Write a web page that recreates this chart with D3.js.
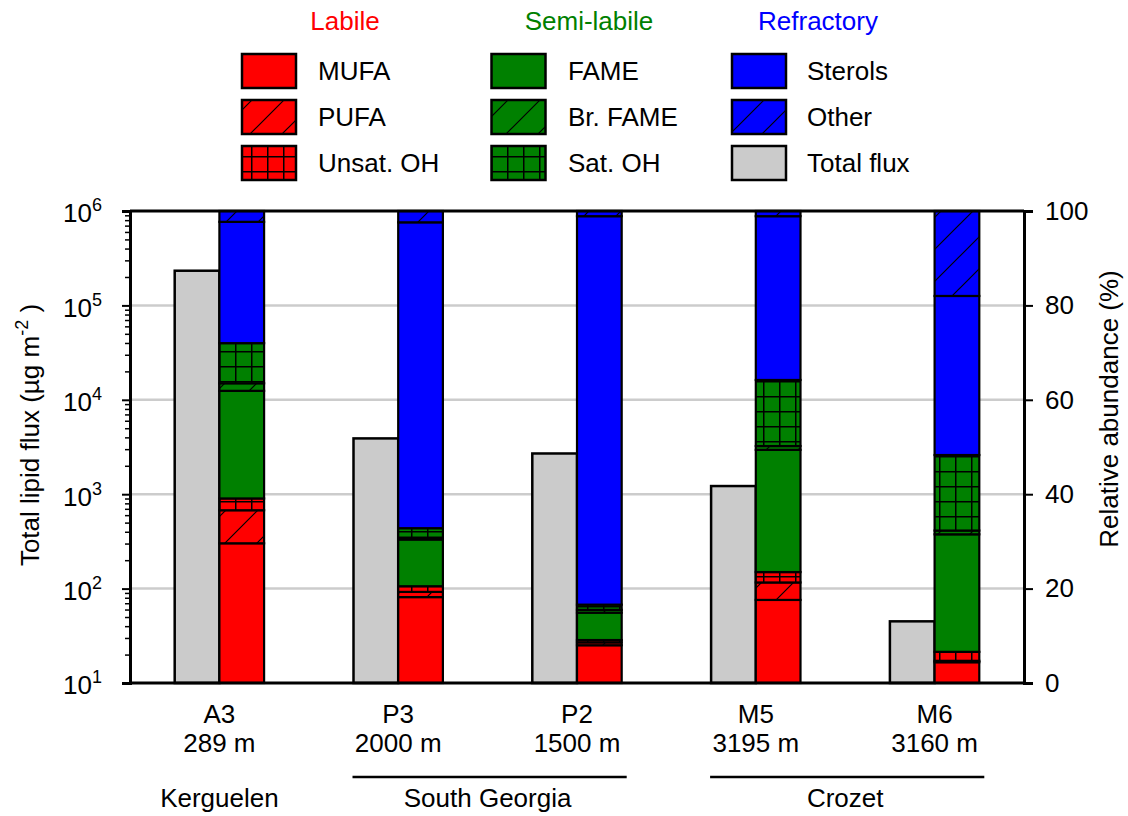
<!DOCTYPE html>
<html>
<head>
<meta charset="utf-8">
<script src="https://cdn.jsdelivr.net/npm/d3@7/dist/d3.min.js"></script>
<style>
  html, body { margin: 0; padding: 0; background: #fff; }
  svg { display: block; font-family: "Liberation Sans", Arial, Helvetica, sans-serif; }
</style>
</head>
<body>
<svg id="chart" width="1128" height="816"></svg>
<script>
// ---------------- DATA ----------------
const stations = ["A3", "P3", "P2", "M5", "M6"];
const depths = ["289 m", "2000 m", "1500 m", "3195 m", "3160 m"];
const totalFlux = [233000, 3900, 2700, 1220, 45];           // µg m-2 (left log axis)
const mufa    = [29.6, 18.2, 8.0, 17.6, 4.4];               // % (right axis)
const pufa    = [7.0, 1.1, 0.6, 3.7, 0.3];
const unsatOH = [2.5, 1.2, 0.5, 2.2, 1.9];
const fame    = [22.8, 9.9, 5.8, 25.9, 24.9];
const brFame  = [1.6, 0.4, 0.6, 0.8, 0.8];
const satOH   = [8.5, 2.0, 1.1, 14.0, 16.0];
const sterols = [25.7, 64.8, 82.3, 34.7, 33.7];
const other   = [2.3, 2.4, 1.1, 1.1, 18.0];
const regionNames = ["Kerguelen", "South Georgia", "Crozet"];
const regionMembers = [["A3"], ["P3", "P2"], ["M5", "M6"]];
const leftTickExponents = [1, 2, 3, 4, 5, 6];
const rightTicks = [0, 20, 40, 60, 80, 100];
const groupNames = ["Labile", "Semi-labile", "Refractory"];
const legendLabels = [["MUFA", "PUFA", "Unsat. OH"], ["FAME", "Br. FAME", "Sat. OH"], ["Sterols", "Other", "Total flux"]];

// ---------------- STYLE ----------------
const keys = ["mufa", "pufa", "unsatOH", "fame", "brFame", "satOH", "sterols", "other"];
const keyColor = { mufa: "#ff0000", pufa: "#ff0000", unsatOH: "#ff0000", fame: "#008000", brFame: "#008000", satOH: "#008000", sterols: "#0000ff", other: "#0000ff" };
const keyPattern = { mufa: null, pufa: "diag", unsatOH: "grid", fame: null, brFame: "diag", satOH: "grid", sterols: null, other: "diag" };
const groupColors = ["#ff0000", "#008000", "#0000ff"];
const grayFill = "#cbcbcb";
const legendKeys = [["mufa", "pufa", "unsatOH"], ["fame", "brFame", "satOH"], ["sterols", "other", "total"]];

// table for stacking
const table = stations.map((s, i) => ({
  station: s, mufa: mufa[i], pufa: pufa[i], unsatOH: unsatOH[i], fame: fame[i],
  brFame: brFame[i], satOH: satOH[i], sterols: sterols[i], other: other[i]
}));

const svg = d3.select("#chart");
const FS = 26;
const plotL = 130, plotR = 1024, plotT = 211, plotB = 683;

const x = d3.scaleBand().domain(stations).range([plotL, plotR]).padding(0);
const yLog = d3.scaleLog().domain([10, 1e6]).range([plotB, plotT]);
const yPct = d3.scaleLinear().domain([0, 100]).range([plotB, plotT]);
const bw = x.bandwidth() * 0.25;
const cx = s => x(s) + x.bandwidth() / 2;

// patterns
const defs = svg.append("defs");
const pd = defs.append("pattern").attr("id", "diag").attr("patternUnits", "userSpaceOnUse")
  .attr("width", 32).attr("height", 32);
pd.append("path").attr("d", "M0,32 L32,0 M-4,4 L4,-4 M28,36 L36,28")
  .attr("stroke", "#000").attr("stroke-width", 1.2).attr("fill", "none");
const pg = defs.append("pattern").attr("id", "grid").attr("patternUnits", "userSpaceOnUse")
  .attr("x", 11).attr("y", 6).attr("width", 16).attr("height", 15);
pg.append("path").attr("d", "M0.75,0 V15 M0,0.75 H16")
  .attr("stroke", "#000").attr("stroke-width", 1.5).attr("fill", "none");

// gridlines
svg.append("g").selectAll("line").data(rightTicks.filter(v => v > 0 && v < 100)).join("line")
  .attr("x1", plotL).attr("x2", plotR)
  .attr("y1", d => yPct(d)).attr("y2", d => yPct(d))
  .attr("stroke", "#cccccc").attr("stroke-width", 2.5);

// total flux bars (gray, log axis)
svg.append("g").selectAll("rect").data(stations).join("rect")
  .attr("x", s => cx(s) - bw).attr("width", bw)
  .attr("y", (s, i) => yLog(totalFlux[i]))
  .attr("height", (s, i) => plotB - yLog(totalFlux[i]))
  .attr("fill", grayFill).attr("stroke", "#000").attr("stroke-width", 2.5);

// stacked composition bars
const stack = d3.stack().keys(keys)(table);
const gStack = svg.append("g");
stack.forEach(layer => {
  const key = layer.key;
  const g = gStack.append("g");
  g.selectAll("rect.fill").data(layer).join("rect").attr("class", "fill")
    .attr("x", d => cx(d.data.station)).attr("width", bw)
    .attr("y", d => yPct(d[1])).attr("height", d => yPct(d[0]) - yPct(d[1]))
    .attr("fill", keyColor[key]);
  if (keyPattern[key]) {
    g.selectAll("rect.pat").data(layer).join("rect").attr("class", "pat")
      .attr("x", d => cx(d.data.station)).attr("width", bw)
      .attr("y", d => yPct(d[1])).attr("height", d => yPct(d[0]) - yPct(d[1]))
      .attr("fill", "url(#" + keyPattern[key] + ")");
  }
  g.selectAll("rect.edge").data(layer).join("rect").attr("class", "edge")
    .attr("x", d => cx(d.data.station)).attr("width", bw)
    .attr("y", d => yPct(d[1])).attr("height", d => yPct(d[0]) - yPct(d[1]))
    .attr("fill", "none").attr("stroke", "#000").attr("stroke-width", 2.2);
});

// frame top & bottom
svg.append("line").attr("x1", plotL).attr("x2", plotR).attr("y1", plotT).attr("y2", plotT)
  .attr("stroke", "#000").attr("stroke-width", 3);
svg.append("line").attr("x1", plotL).attr("x2", plotR).attr("y1", plotB).attr("y2", plotB)
  .attr("stroke", "#000").attr("stroke-width", 3);

// left log axis: minor ticks
const minorVals = [];
leftTickExponents.slice(0, -1).forEach(e => { for (let m = 2; m <= 9; m++) minorVals.push(m * Math.pow(10, e)); });
const gMinor = svg.append("g").attr("transform", `translate(${plotL},0)`)
  .call(d3.axisLeft(yLog).tickValues(minorVals).tickSize(5).tickFormat(""));
gMinor.select(".domain").remove();
gMinor.selectAll(".tick line").attr("stroke-width", 1.5);

const gLeft = svg.append("g").attr("transform", `translate(${plotL},0)`)
  .call(d3.axisLeft(yLog).tickValues(leftTickExponents.map(e => Math.pow(10, e)))
    .tickSize(8).tickPadding(20).tickFormat(""));
gLeft.select(".domain").attr("stroke-width", 3);
gLeft.selectAll(".tick line").attr("stroke-width", 2);
gLeft.selectAll(".tick text").each(function(d) {
  const t = d3.select(this).attr("font-size", FS).attr("font-family", null).attr("fill", "#000")
    .attr("dy", "0.42em");
  t.text("10");
  t.append("tspan").attr("dy", -11).attr("font-size", 18).text(Math.round(Math.log10(d)));
});

// right axis
const gRight = svg.append("g").attr("transform", `translate(${plotR},0)`)
  .call(d3.axisRight(yPct).tickValues(rightTicks).tickSize(9).tickPadding(12));
gRight.select(".domain").attr("stroke-width", 3);
gRight.selectAll(".tick line").attr("stroke-width", 2);
gRight.selectAll(".tick text").attr("font-size", FS).attr("font-family", null).attr("fill", "#000");

// axis titles
const lt = svg.append("text").attr("transform", "translate(39,435) rotate(-90)")
  .attr("text-anchor", "middle").attr("font-size", FS);
lt.append("tspan").text("Total lipid flux (µg m");
lt.append("tspan").attr("dy", -11).attr("font-size", 18).text("-2");
lt.append("tspan").attr("dy", 11).text(" )");

svg.append("text").attr("transform", "translate(1118,409) rotate(-90)")
  .attr("text-anchor", "middle").attr("font-size", FS).text("Relative abundance (%)");

// x labels
const gx = svg.append("g");
gx.selectAll("text.st").data(stations).join("text").attr("class", "st")
  .attr("x", s => cx(s)).attr("y", 723).attr("text-anchor", "middle").attr("font-size", FS).text(s => s);
gx.selectAll("text.dp").data(stations).join("text").attr("class", "dp")
  .attr("x", s => cx(s)).attr("y", 752).attr("text-anchor", "middle").attr("font-size", FS)
  .text((s, i) => depths[i]);

// regions
regionNames.forEach((name, i) => {
  const mem = regionMembers[i];
  const c0 = cx(mem[0]), c1 = cx(mem[mem.length - 1]);
  if (mem.length > 1) {
    svg.append("line").attr("x1", c0 - bw - 1).attr("x2", c1 + bw + 5)
      .attr("y1", 777).attr("y2", 777).attr("stroke", "#000").attr("stroke-width", 2.7);
  }
  svg.append("text").attr("x", (c0 + c1) / 2).attr("y", 807).attr("text-anchor", "middle")
    .attr("font-size", FS).text(name);
});

// legend
const colBoxX = [242, 491.5, 732];
const colTextX = [318, 568, 807];
const headerX = [345, 589, 818];
const rowY = [54, 100, 146];
groupNames.forEach((gname, c) => {
  svg.append("text").attr("x", headerX[c]).attr("y", 30).attr("text-anchor", "middle")
    .attr("font-size", FS).attr("fill", groupColors[c]).text(gname);
  legendKeys[c].forEach((k, r) => {
    const fill = k === "total" ? grayFill : keyColor[k];
    svg.append("rect").attr("x", colBoxX[c]).attr("y", rowY[r]).attr("width", 54).attr("height", 34)
      .attr("fill", fill);
    if (k !== "total" && keyPattern[k]) {
      svg.append("rect").attr("x", colBoxX[c]).attr("y", rowY[r]).attr("width", 54).attr("height", 34)
        .attr("fill", "url(#" + keyPattern[k] + ")");
    }
    svg.append("rect").attr("x", colBoxX[c]).attr("y", rowY[r]).attr("width", 54).attr("height", 34)
      .attr("fill", "none").attr("stroke", "#000").attr("stroke-width", 2.5);
    svg.append("text").attr("x", colTextX[c]).attr("y", rowY[r] + 26).attr("font-size", FS)
      .text(legendLabels[c][r]);
  });
});
</script>
</body>
</html>
